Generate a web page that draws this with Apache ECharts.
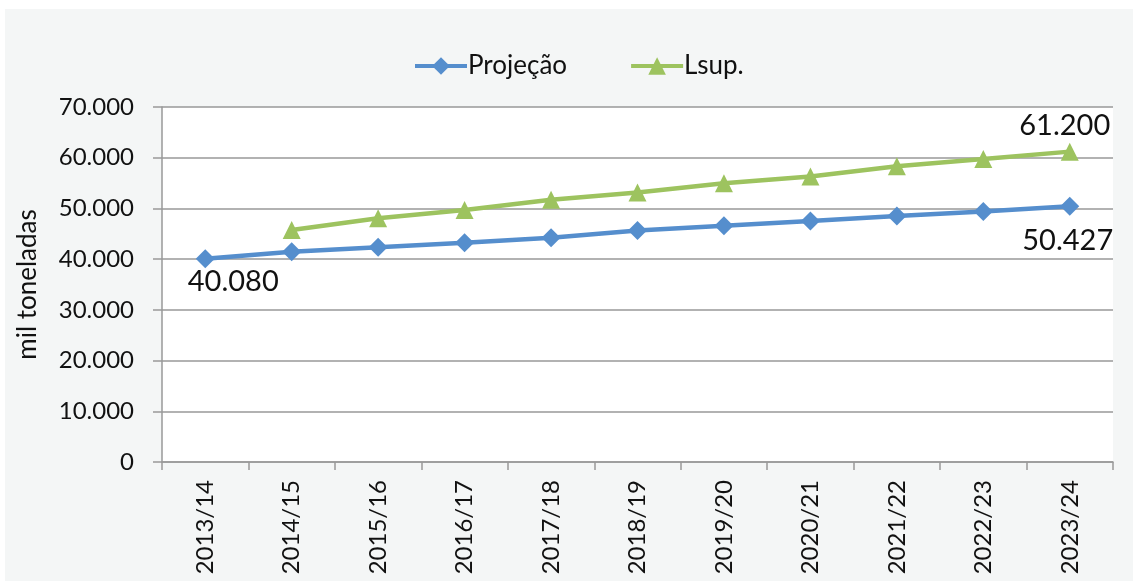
<!DOCTYPE html>
<html>
<head>
<meta charset="utf-8">
<script src="https://cdn.jsdelivr.net/npm/echarts@6/dist/echarts.min.js"></script>
<style>
  html, body { margin: 0; padding: 0; background: #ffffff; }
  #chart { width: 1133px; height: 581px; }
</style>
</head>
<body>
<div id="chart"></div>
<script>
// Safras 2013/14 a 2023/24
const categories = ['2013/14', '2014/15', '2015/16', '2016/17', '2017/18', '2018/19',
                    '2019/20', '2020/21', '2021/22', '2022/23', '2023/24'];
// Projeção (mil toneladas)
const projecao = [40080, 41470, 42330, 43250, 44240, 45650, 46600, 47500, 48500, 49400, 50427];
// Limite superior (mil toneladas); sem valor para a primeira safra
const lsup = [null, 45750, 48050, 49700, 51700, 53150, 54950, 56300, 58300, 59750, 61200];
// Rótulos do eixo vertical
const yTickLabels = ['0', '10.000', '20.000', '30.000', '40.000', '50.000', '60.000', '70.000'];

const FONT = 'Lato';
const fmt = v => String(Math.round(v)).replace(/\B(?=(\d{3})+(?!\d))/g, '.');

// Rótulos de valor: só no primeiro e no último ponto
const labelled = {
  projecao: {
    0: { position: 'bottom', distance: 0, offset: [28, -1] },
    10: { position: 'bottom', distance: 10, offset: [-2, 0] }
  },
  lsup: {
    10: { position: 'top', distance: 2, offset: [-5, 0] }
  }
};

function pointData(values, marks) {
  return values.map((v, i) => {
    const m = marks[i];
    if (v == null || !m) return v;
    return {
      value: v,
      label: {
        show: true,
        position: m.position,
        distance: m.distance,
        offset: m.offset,
        formatter: p => fmt(p.value),
        fontFamily: FONT,
        fontSize: 29,
        color: '#111'
      }
    };
  });
}

const chart = echarts.init(document.getElementById('chart'));
chart.setOption({
  animation: false,
  backgroundColor: '#ffffff',
  graphic: [{
    type: 'rect',
    left: 5, top: 9,
    shape: { width: 1128, height: 572 },
    style: { fill: '#f4f6f6' },
    z: -10
  }],
  legend: {
    top: 48,
    left: 408,
    itemWidth: 52,
    itemHeight: 22,
    itemGap: 62,
    lineStyle: { width: 4 },
    textStyle: { fontFamily: FONT, fontSize: 26, color: '#111', padding: [0, 0, 0, -4] },
    data: ['Projeção', 'Lsup.']
  },
  grid: {
    left: 162, right: 20, top: 107, bottom: 119,
    show: true, backgroundColor: '#ffffff', borderWidth: 0
  },
  xAxis: {
    type: 'category',
    data: categories,
    boundaryGap: true,
    axisLine: { lineStyle: { color: '#999999', width: 1.5 } },
    axisTick: { show: true, length: 8, lineStyle: { color: '#999999', width: 1.5 } },
    axisLabel: { rotate: 90, margin: 18, fontFamily: FONT, fontSize: 24, color: '#111' }
  },
  yAxis: {
    type: 'value',
    min: 0, max: 70000, interval: 10000,
    name: 'mil toneladas',
    nameLocation: 'middle',
    nameGap: 121,
    nameTextStyle: { fontFamily: FONT, fontSize: 26, color: '#111' },
    axisLine: { show: true, lineStyle: { color: '#999999', width: 1.5 } },
    axisTick: { show: true, length: 9, lineStyle: { color: '#999999', width: 1.5 } },
    splitLine: { lineStyle: { color: '#999999', width: 1.5 } },
    axisLabel: {
      margin: 28, fontFamily: FONT, fontSize: 24, color: '#111',
      formatter: v => yTickLabels[Math.round(v / 10000)]
    }
  },
  series: [
    {
      name: 'Projeção',
      type: 'line',
      data: pointData(projecao, labelled.projecao),
      symbol: 'diamond',
      symbolSize: 19,
      lineStyle: { color: '#558ecd', width: 4.5 },
      itemStyle: { color: '#558ecd' },
      z: 3
    },
    {
      name: 'Lsup.',
      type: 'line',
      data: pointData(lsup, labelled.lsup),
      symbol: 'triangle',
      symbolSize: 18,
      lineStyle: { color: '#9dc35f', width: 4.5 },
      itemStyle: { color: '#9dc35f' },
      z: 3
    }
  ]
});
</script>
</body>
</html>
